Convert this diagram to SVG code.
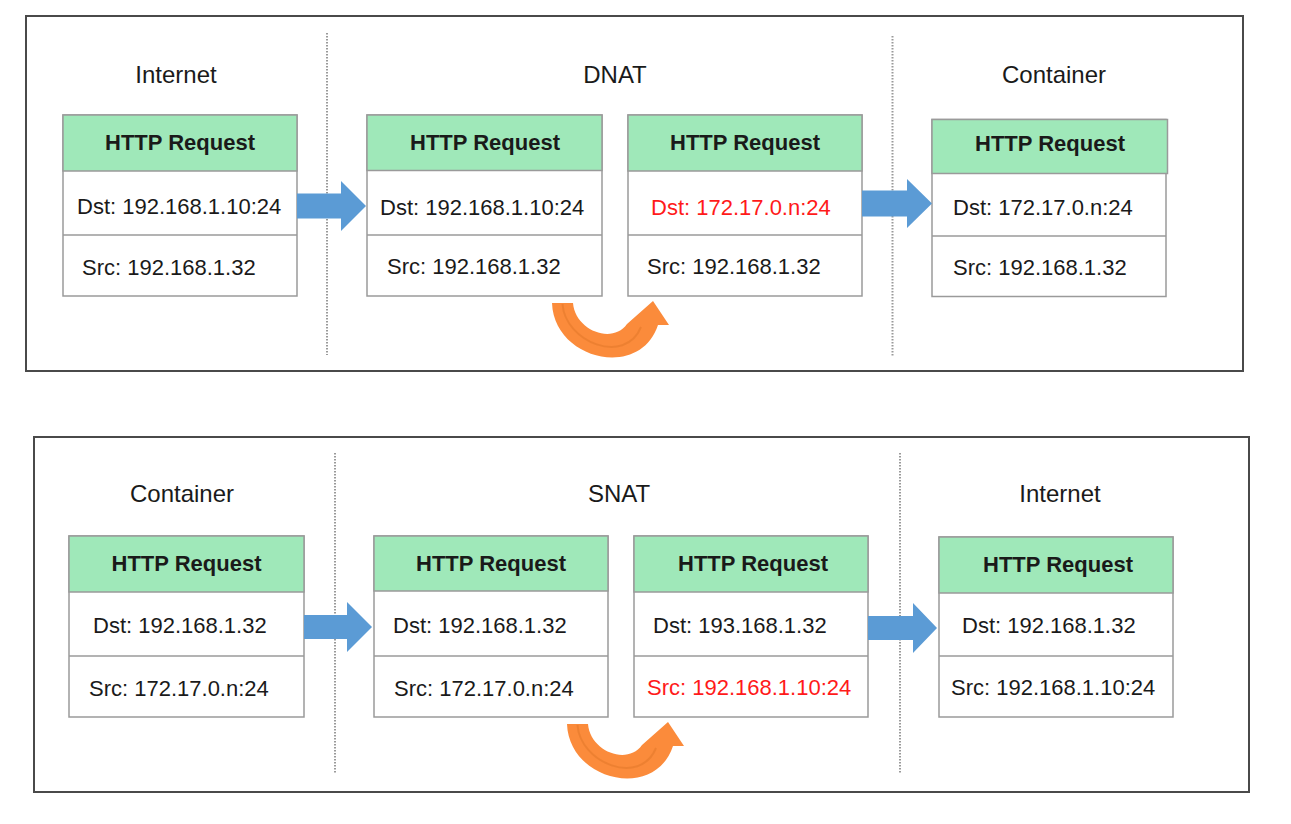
<svg xmlns="http://www.w3.org/2000/svg" width="1291" height="824" viewBox="0 0 1291 824">
<style>
text{font-family:"Liberation Sans",Arial,sans-serif;fill:#1a1a1a}
.title{font-size:24px;text-anchor:middle}
.hdr{font-size:22px;font-weight:bold;text-anchor:middle}
.row{font-size:22px}
.red{fill:#ff1a1a}
.frame{fill:#fff;stroke:#4a4a4a;stroke-width:2}
.box{fill:#fff;stroke:#9a9a9a;stroke-width:1.5}
.head{fill:#9fe8b9;stroke:#9a9a9a;stroke-width:1.5}
.div{stroke:#9a9a9a;stroke-width:1.5}
.sep{stroke:#9a9a9a;stroke-width:2;stroke-dasharray:1.5 1.5}
.blue{fill:#5b9bd5}
.orange{fill:#fb8b3b}
.oline{fill:none;stroke:#e47a2c;stroke-width:2;opacity:0.6}
</style>
<defs>
<g id="curve">
<path class="orange" d="M552,303 H573 C575,330 612,345 627,324 L653,301 L669,325 H658 C640,380 554,360 552,303 Z"/>
<path class="oline" d="M562.5,304 C565,342 625,366 641,327"/>
</g>
</defs>
<rect width="1291" height="824" fill="#fff"/>

<g id="panel-dnat">
<rect class="frame" x="26" y="16" width="1217" height="355"/>
<line class="sep" x1="327" y1="33" x2="327" y2="355"/>
<line class="sep" x1="892.5" y1="36" x2="892.5" y2="357"/>
<text class="title" x="176" y="83">Internet</text>
<text class="title" x="615" y="83">DNAT</text>
<text class="title" x="1054" y="83">Container</text>
</g>

<g id="panel-snat">
<rect class="frame" x="34" y="437" width="1215" height="355"/>
<line class="sep" x1="335" y1="453" x2="335" y2="773"/>
<line class="sep" x1="900" y1="453" x2="900" y2="773"/>
<text class="title" x="182" y="502">Container</text>
<text class="title" x="619" y="502">SNAT</text>
<text class="title" x="1060" y="502">Internet</text>
</g>

<g id="dnat-internet">
<rect class="box" x="63" y="115" width="234" height="181"/>
<rect class="head" x="63" y="115" width="234" height="56"/>
<line class="div" x1="63" y1="235" x2="297" y2="235"/>
<text class="hdr" x="180" y="150">HTTP Request</text>
<text class="row" x="77" y="214">Dst: 192.168.1.10:24</text>
<text class="row" x="82" y="275">Src: 192.168.1.32</text>
</g>

<g id="dnat-before">
<rect class="box" x="367" y="115" width="235" height="181"/>
<rect class="head" x="367" y="115" width="235" height="55.5"/>
<line class="div" x1="367" y1="235" x2="602" y2="235"/>
<text class="hdr" x="485" y="150">HTTP Request</text>
<text class="row" x="380" y="215">Dst: 192.168.1.10:24</text>
<text class="row" x="387" y="274">Src: 192.168.1.32</text>
</g>

<g id="dnat-after">
<rect class="box" x="628" y="115" width="234" height="181"/>
<rect class="head" x="628" y="115" width="234" height="56"/>
<line class="div" x1="628" y1="235" x2="862" y2="235"/>
<text class="hdr" x="745" y="150">HTTP Request</text>
<text class="row red" x="651" y="215">Dst: 172.17.0.n:24</text>
<text class="row" x="647" y="274">Src: 192.168.1.32</text>
</g>

<g id="dnat-container">
<rect class="box" x="932" y="119.5" width="234" height="177"/>
<rect class="head" x="932" y="119.5" width="235.5" height="54"/>
<line class="div" x1="932" y1="236" x2="1166" y2="236"/>
<text class="hdr" x="1050" y="151">HTTP Request</text>
<text class="row" x="953" y="215">Dst: 172.17.0.n:24</text>
<text class="row" x="953" y="275">Src: 192.168.1.32</text>
</g>

<g id="snat-container">
<rect class="box" x="69" y="536" width="235" height="181"/>
<rect class="head" x="69" y="536" width="235" height="56"/>
<line class="div" x1="69" y1="656" x2="304" y2="656"/>
<text class="hdr" x="186.5" y="571">HTTP Request</text>
<text class="row" x="93" y="633">Dst: 192.168.1.32</text>
<text class="row" x="89" y="696">Src: 172.17.0.n:24</text>
</g>

<g id="snat-before">
<rect class="box" x="374" y="536" width="234" height="181"/>
<rect class="head" x="374" y="536" width="234" height="55"/>
<line class="div" x1="374" y1="656" x2="608" y2="656"/>
<text class="hdr" x="491" y="571">HTTP Request</text>
<text class="row" x="393" y="633">Dst: 192.168.1.32</text>
<text class="row" x="394" y="696">Src: 172.17.0.n:24</text>
</g>

<g id="snat-after">
<rect class="box" x="634" y="536" width="234" height="181"/>
<rect class="head" x="634" y="536" width="234" height="56"/>
<line class="div" x1="634" y1="656" x2="868" y2="656"/>
<text class="hdr" x="753" y="571">HTTP Request</text>
<text class="row" x="653" y="633">Dst: 193.168.1.32</text>
<text class="row red" x="647" y="695">Src: 192.168.1.10:24</text>
</g>

<g id="snat-internet">
<rect class="box" x="939" y="537" width="234" height="180"/>
<rect class="head" x="939" y="537" width="234" height="56"/>
<line class="div" x1="939" y1="656" x2="1173" y2="656"/>
<text class="hdr" x="1058" y="572">HTTP Request</text>
<text class="row" x="962" y="633">Dst: 192.168.1.32</text>
<text class="row" x="951" y="695">Src: 192.168.1.10:24</text>
</g>

<g id="connectors">
<path class="blue" d="M297,193.5 H341 V181 L366,206 L341,231 V218.5 H297 Z"/>
<path class="blue" d="M862,190.5 H907 V179 L932,203.5 L907,228 V216.5 H862 Z"/>
<path class="blue" d="M304,615 H347 V602 L372,627 L347,652 V639 H304 Z"/>
<path class="blue" d="M868,616 H913 V603 L937,628 L913,653 V640 H868 Z"/>
<use href="#curve"/>
<use href="#curve" transform="translate(15,421)"/>
</g>
</svg>
